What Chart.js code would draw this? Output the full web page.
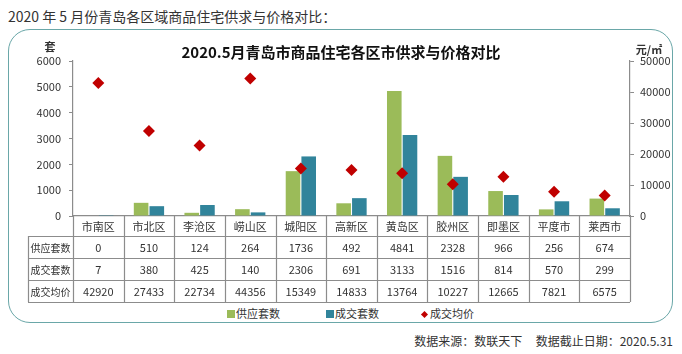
<!DOCTYPE html>
<html>
<head>
<meta charset="utf-8">
<script src="https://cdn.jsdelivr.net/npm/chart.js@4.4.0/dist/chart.umd.min.js"></script>
<style>
  body { margin: 0; background: #fff; font-family: "Noto Sans CJK SC", sans-serif; }
  #page { position: relative; width: 682px; height: 354px; overflow: hidden; }
  #heading { position: absolute; left: 8px; top: 6px; font-size: 14px; color: #333; white-space: nowrap; }
  #box { position: absolute; left: 8px; top: 29px; width: 663px; height: 292px;
         border: 1.5px solid #6aa7a8; border-radius: 22px; }
  #source { position: absolute; right: 9px; top: 332px; font-size: 12px; color: #333; white-space: nowrap; }
  .leg { position: absolute; top: 305px; font-size: 11px; color: #333; white-space: nowrap; }
  .sq { display: inline-block; width: 8px; height: 8px; margin-right: 1px; vertical-align: -0px; }
  .dm { display: inline-block; width: 5px; height: 5px; margin: 0 3px 0 1px; transform: rotate(45deg); vertical-align: 1px; }
  canvas { position: absolute; left: 0; top: 0; }
</style>
</head>
<body>
<div id="page">
  <div id="heading">2020 年 5 月份青岛各区域商品住宅供求与价格对比：</div>
  <div id="box"></div>
  <div class="leg" style="left:227px"><span class="sq" style="background:#9bbb59"></span>供应套数</div>
  <div class="leg" style="left:326px"><span class="sq" style="background:#31849b"></span>成交套数</div>
  <div class="leg" style="left:421px"><span class="dm" style="background:#c00000"></span>成交均价</div>
  <div id="source">数据来源：数联天下&nbsp;&nbsp;&nbsp;&nbsp;&nbsp;数据截止日期：2020.5.31</div>
  <canvas id="myChart" width="682" height="354"></canvas>
</div>
<script>
const categories = ['市南区', '市北区', '李沧区', '崂山区', '城阳区', '高新区', '黄岛区', '胶州区', '即墨区', '平度市', '莱西市'];
const supply = [0, 510, 124, 264, 1736, 492, 4841, 2328, 966, 256, 674];
const deals = [7, 380, 425, 140, 2306, 691, 3133, 1516, 814, 570, 299];
const avgPrice = [42920, 27433, 22734, 44356, 15349, 14833, 13764, 10227, 12665, 7821, 6575];
const rowNames = ['供应套数', '成交套数', '成交均价'];

const green = '#9bbb59';
const blue = '#31849b';
const red = '#c00000';
const lineColor = '#8c8c8c';
const font = '"Noto Sans CJK SC", sans-serif';

// table under the plot, columns follow the x scale
const tablePlugin = {
  id: 'table',
  afterDraw(chart) {
    const ctx = chart.ctx;
    const x = chart.scales.x;
    const yl = chart.scales.y;
    const yr = chart.scales.y2;
    const top = chart.chartArea.bottom;
    const headH = 20, rowH = 22;
    const bottom = top + headH + rowH * 3;
    const labelLeft = 28;
    const colW = (x.right - x.left) / categories.length;
    const rows = [supply, deals, avgPrice];

    ctx.save();
    ctx.strokeStyle = lineColor;
    ctx.lineWidth = 1.2;
    ctx.beginPath();
    for (let i = 0; i <= categories.length; i++) {
      const px = Math.round(x.left + i * colW) + 0.5;
      ctx.moveTo(px, top);
      ctx.lineTo(px, bottom);
    }
    for (let r = 0; r <= 3; r++) {
      const py = top + headH + r * rowH + 0.5;
      ctx.moveTo(labelLeft, py);
      ctx.lineTo(x.right, py);
    }
    ctx.moveTo(labelLeft + 0.5, top + headH);
    ctx.lineTo(labelLeft + 0.5, bottom);
    ctx.stroke();

    ctx.fillStyle = '#333';
    ctx.textAlign = 'center';
    ctx.textBaseline = 'middle';
    ctx.font = '11px ' + font;
    categories.forEach((c, i) => {
      ctx.fillText(c, x.getPixelForValue(i), top + headH / 2 + 1);
      rows.forEach((row, r) => {
        ctx.fillText(String(row[i]), x.getPixelForValue(i), top + headH + r * rowH + rowH / 2 + 1);
      });
    });
    ctx.font = '10px ' + font;
    rowNames.forEach((n, r) => {
      ctx.fillText(n, (labelLeft + x.left) / 2, top + headH + r * rowH + rowH / 2 + 1);
    });

    // axis units
    ctx.font = 'bold 11px ' + font;
    ctx.fillText('套', 50, yl.top - 14);
    ctx.fillText('元/㎡', yr.right - 33, yr.top - 11);
    ctx.restore();
  }
};

const ctx = document.getElementById('myChart').getContext('2d');

const config = {
  type: 'bar',
  data: {
    labels: categories,
    datasets: [
      {
        type: 'line',
        label: '成交均价',
        data: avgPrice,
        yAxisID: 'y2',
        showLine: false,
        pointStyle: 'rectRot',
        pointRadius: 6,
        pointHoverRadius: 6,
        pointBackgroundColor: red,
        pointBorderColor: red,
        pointBorderWidth: 0,
        order: 0
      },
      {
        label: '供应套数',
        data: supply,
        backgroundColor: green,
        yAxisID: 'y',
        categoryPercentage: 0.62,
        barPercentage: 0.93,
        order: 1
      },
      {
        label: '成交套数',
        data: deals,
        backgroundColor: blue,
        yAxisID: 'y',
        categoryPercentage: 0.62,
        barPercentage: 0.93,
        order: 1
      }
    ]
  },
  options: {
    responsive: false,
    animation: false,
    layout: { padding: { left: 0, right: 0, top: 0, bottom: 52 } },
    plugins: {
      legend: { display: false },
      tooltip: { enabled: false },
      title: {
        display: true,
        text: '2020.5月青岛市商品住宅各区市供求与价格对比',
        color: '#111',
        font: { family: font, size: 15, weight: 'bold', lineHeight: 1.2 },
        padding: { top: 43, bottom: 0 }
      }
    },
    scales: {
      x: {
        grid: { display: false },
        border: { display: true, color: lineColor, width: 1.2 },
        ticks: { display: false },
        afterFit: (s) => { s.height = 86; }
      },
      y: {
        position: 'left',
        min: 0,
        max: 6000,
        ticks: { stepSize: 1000, color: '#333', padding: 8, font: { family: font, size: 11 },
                 callback: (v) => String(v) },
        grid: { drawOnChartArea: false, tickLength: 4, color: lineColor },
        border: { color: lineColor, width: 1.2 },
        afterFit: (s) => { s.width = 73; }
      },
      y2: {
        position: 'right',
        min: 0,
        max: 50000,
        ticks: { stepSize: 10000, color: '#333', padding: 6, font: { family: font, size: 11 },
                 callback: (v) => String(v) },
        grid: { drawOnChartArea: false, tickLength: 4, color: lineColor },
        border: { color: lineColor, width: 1.2 },
        afterFit: (s) => { s.width = 52; }
      }
    }
  },
  plugins: [tablePlugin]
};

const myChart = new Chart(ctx, config);
</script>
</body>
</html>
